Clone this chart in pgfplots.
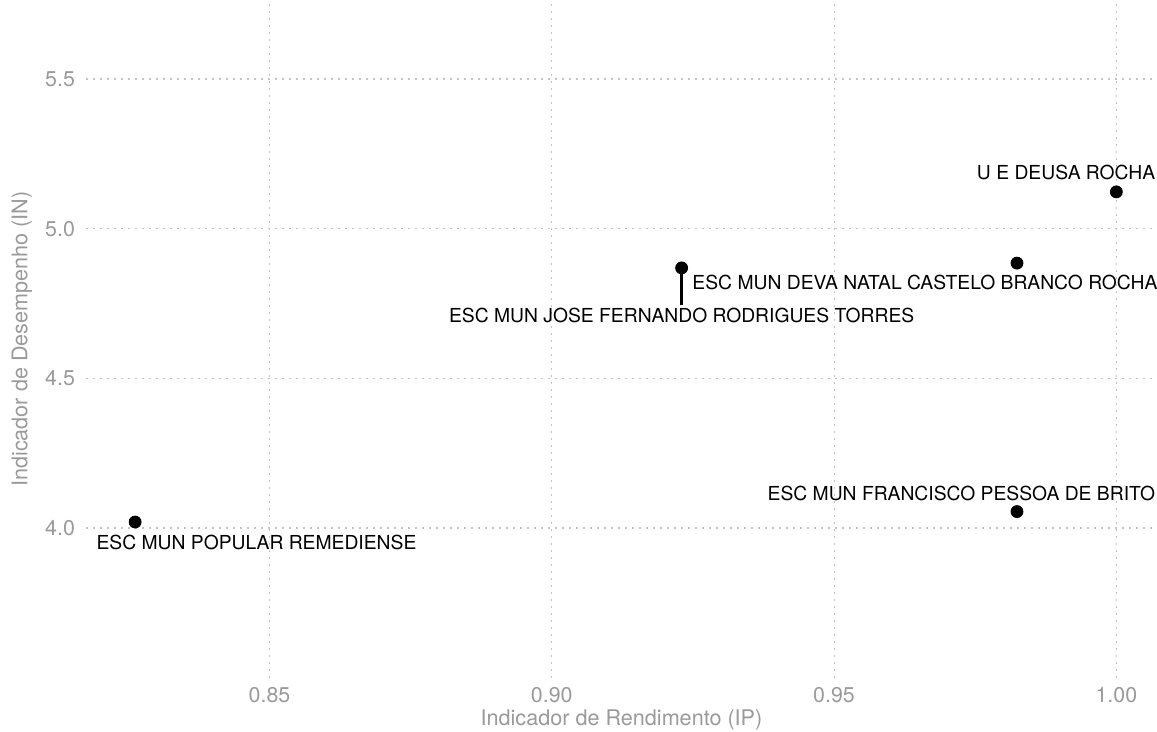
\documentclass[border=0pt]{standalone}
\usepackage{fontspec}
\setmainfont{TeX Gyre Heros}
\usepackage{pgfplots}
\pgfplotsset{compat=1.18}

\definecolor{ticktext}{HTML}{9A9A9A}
\definecolor{gridcol}{HTML}{C4C4C4}

\begin{document}
\begin{tikzpicture}
\begin{axis}[
    scale only axis,
    width=535.5pt, height=339pt,
    xmin=0.8175, xmax=1.0072,
    ymin=3.499, ymax=5.764,
    xtick={0.85,0.90,0.95,1.00},
    ytick={4.0,4.5,5.0,5.5},
    /pgf/number format/assume math mode=true,
    xticklabel style={/pgf/number format/fixed, /pgf/number format/fixed zerofill, /pgf/number format/precision=2, yshift=-1pt},
    yticklabel style={/pgf/number format/fixed, /pgf/number format/fixed zerofill, /pgf/number format/precision=1, xshift=-2pt},
    ticklabel style={font=\fontsize{10.7}{12}\selectfont, text=ticktext},
    major tick length=0pt,
    axis line style={draw=none},
    grid=major,
    major grid style={gridcol, line width=0.55pt, dash pattern=on 0.8pt off 2.7pt},
    xlabel={Indicador de Rendimento (IP)},
    ylabel={Indicador de Desempenho (IN)},
    label style={font=\fontsize{10.8}{12}\selectfont, text=ticktext},
    xlabel style={at={(axis description cs:0.5,-0.062)}, anchor=center},
    ylabel style={at={(axis description cs:-0.0598,0.5)}, anchor=center},
    clip=false,
]
% connector segment (label repel)
\addplot[black, line width=1.2pt] coordinates {(0.923,4.869) (0.923,4.746)};

% schools
\addplot[only marks, mark=*, mark size=3pt, black] coordinates {
    (0.8262,4.020)
    (0.9230,4.869)
    (0.9824,4.885)
    (1.0000,5.123)
    (0.9824,4.055)
};

\begin{scope}[every node/.style={font=\fontsize{9.65}{11}\selectfont, inner sep=0pt, text=black}]
\node[anchor=east]   at (axis cs:1.00695,5.187) {U E DEUSA ROCHA};
\node[anchor=west]   at (axis cs:0.92485,4.8196) {ESC MUN DEVA NATAL CASTELO BRANCO ROCHA};
\node[anchor=center] at (axis cs:0.9230,4.709) {ESC MUN JOSE FERNANDO RODRIGUES TORRES};
\node[anchor=east]   at (axis cs:1.00695,4.117) {ESC MUN FRANCISCO PESSOA DE BRITO};
\node[anchor=west]   at (axis cs:0.8193,3.953) {ESC MUN POPULAR REMEDIENSE};
\end{scope}
\end{axis}
\pgfresetboundingbox
\path (current axis.south west) ++(-43pt,-27pt) coordinate (bl);
\path (bl) rectangle (current axis.north east);
\end{tikzpicture}
\end{document}
